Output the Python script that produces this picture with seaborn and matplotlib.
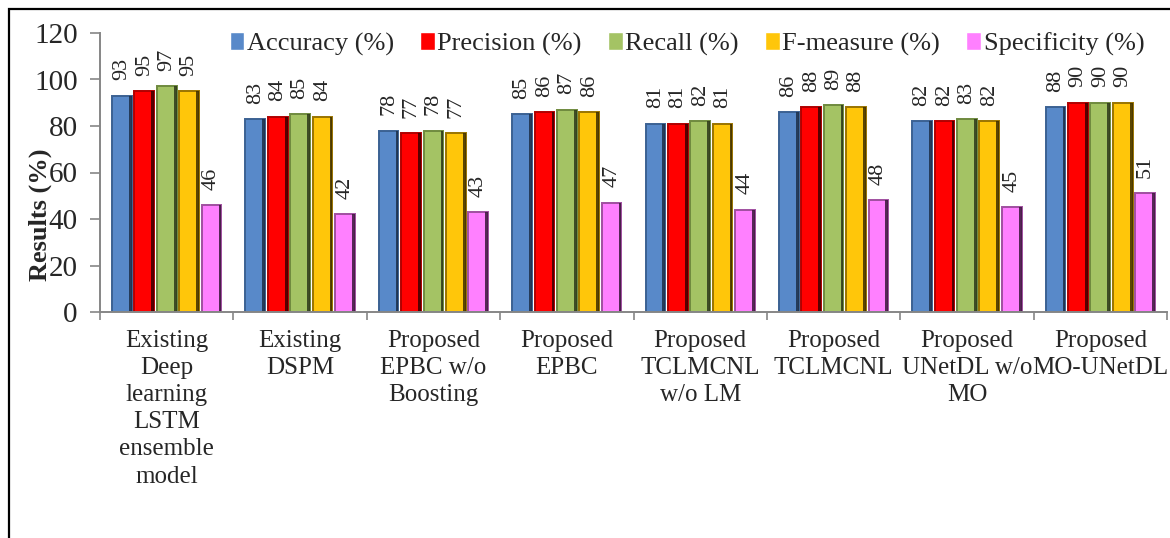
import matplotlib
matplotlib.use("Agg")
import matplotlib.pyplot as plt
from matplotlib.patches import Rectangle
import seaborn as sns
import pandas as pd

methods = [
    "Existing\nDeep\nlearning\nLSTM\nensemble\nmodel",
    "Existing\nDSPM",
    "Proposed\nEPBC w/o\nBoosting",
    "Proposed\nEPBC",
    "Proposed\nTCLMCNL\nw/o LM",
    "Proposed\nTCLMCNL",
    "Proposed\nUNetDL w/o\nMO",
    "Proposed\nMO-UNetDL",
]
metrics = ["Accuracy (%)", "Precision (%)", "Recall (%)", "F-measure (%)", "Specificity (%)"]
accuracy = [93, 83, 78, 85, 81, 86, 82, 88]
precision = [95, 84, 77, 86, 81, 88, 82, 90]
recall = [97, 85, 78, 87, 82, 89, 83, 90]
f_measure = [95, 84, 77, 86, 81, 88, 82, 90]
specificity = [46, 42, 43, 47, 44, 48, 45, 51]
yticks = [0, 20, 40, 60, 80, 100, 120]

face_colors = ["#5889c9", "#ff0000", "#a4c364", "#ffc60a", "#ff80ff"]
edge_colors = ["#3b6193", "#b00000", "#6f8a3e", "#9a7400", "#a04fa0"]
shade_colors = ["#1c2f48", "#3a0000", "#2c3719", "#3d2e00", "#3a173a"]

rows = []
for metric, vals in zip(metrics, [accuracy, precision, recall, f_measure, specificity]):
    for m, v in zip(methods, vals):
        rows.append({"Method": m, "Metric": metric, "Value": v})
df = pd.DataFrame(rows)

sns.set_style("white")
plt.rcParams["font.family"] = ["Liberation Serif", "DejaVu Serif"]

fig = plt.figure(figsize=(11.7, 5.38), dpi=100)
ax = fig.add_axes([100 / 1170, 226 / 538, 1067 / 1170, 279 / 538])

sns.barplot(data=df, x="Method", y="Value", hue="Metric", order=methods,
            hue_order=metrics, palette=face_colors, width=0.84, gap=0.12,
            saturation=1, ax=ax, errorbar=None)

# bevelled look: mid-tone outline plus a dark strip on the right-hand side
for cont, ec, sc in zip(ax.containers, edge_colors, shade_colors):
    for bar in cont:
        bar.set_edgecolor(ec)
        bar.set_linewidth(1.4)
        x0, w, h = bar.get_x(), bar.get_width(), bar.get_height()
        ax.add_patch(Rectangle((x0 + w * 0.86, 0), w * 0.14, h, facecolor=sc,
                               edgecolor="none", alpha=0.85, zorder=bar.get_zorder() + 0.1))
    ax.bar_label(cont, fmt="%d", rotation=90, padding=11, fontsize=16)

ax.set_xlim(-0.5, len(methods) - 0.5)
ax.set_ylim(0, 120)
ax.set_yticks(yticks)
ax.tick_params(axis="y", labelsize=21, length=7, width=1.2, color="#868686",
               pad=9, left=True)
ax.set_xticks(range(len(methods)))
ax.set_xticklabels(methods, fontsize=18, linespacing=1.3)
ax.tick_params(axis="x", which="major", length=0, pad=13)
ax.set_xticks([i - 0.5 for i in range(len(methods) + 1)], minor=True)
ax.tick_params(axis="x", which="minor", length=6, width=1.2, color="#868686",
               bottom=True)

for side in ["top", "right"]:
    ax.spines[side].set_visible(False)
for side in ["left", "bottom"]:
    ax.spines[side].set_color("#868686")
    ax.spines[side].set_linewidth(1.4)

ax.set_xlabel("")
ax.set_ylabel("Results (%)", fontsize=19, fontweight="bold", va="center")
ax.yaxis.set_label_coords(-0.056, 0.348)

sns.move_legend(ax, loc="center", bbox_to_anchor=(0.55, 0.962), ncol=5,
                frameon=False, title=None, fontsize=19, handlelength=0.55,
                handleheight=0.7, handletextpad=0.1, columnspacing=1.0)

fig.add_artist(Rectangle((9 / 1170, -0.1), 1.2, 1.1 - 9 / 538,
                         transform=fig.transFigure, fill=False,
                         edgecolor="black", linewidth=1.6))

fig.savefig("out.png", dpi=100)
